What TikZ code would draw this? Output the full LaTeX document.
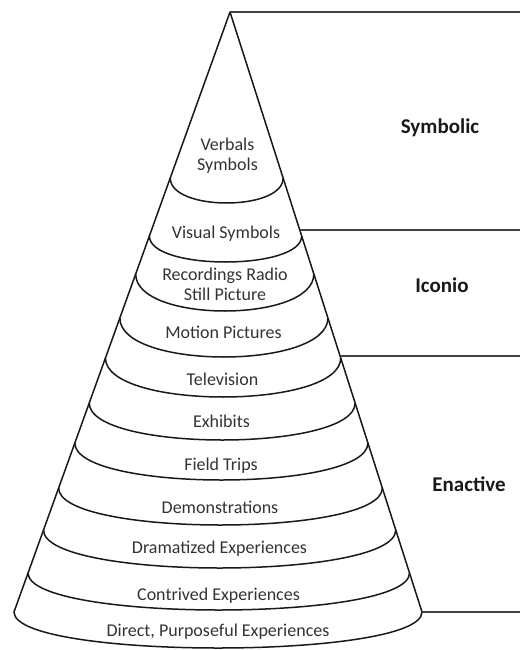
\documentclass[tikz,border=0pt]{standalone}
\usepackage{fontspec}
\setmainfont{Carlito}
\usetikzlibrary{calc}
\definecolor{layergray}{HTML}{333333}
\tikzset{
    layertext/.style={align=center,anchor=base,inner sep=0pt,text=layergray,font=\fontsize{18}{20}\selectfont},
    grouptext/.style={anchor=base,inner sep=0pt,text=black!90,font=\fontsize{21}{24}\selectfont\bfseries},
    cone/.style={line width=1.5pt,draw=black!90,line join=round,line cap=round},
    bar/.style={line width=1.1pt,draw=black!75},
}

\begin{document}
\begin{tikzpicture}[x=1pt,y=-1pt]
    \useasboundingbox (0,0) rectangle (520,650);

    \coordinate (apex) at (230,12);
    \coordinate (baseL) at (14,612);
    \coordinate (baseR) at (422,612);
    \coordinate (edge) at (520,0);

    % cone sides
    \draw[cone] (baseL) -- (apex) -- (baseR);

    % layer rims: side y / lowest y
    \foreach \ys/\yb in {178/203, 236/262, 274/311, 318/357, 358/397, 403/440,
                         443/480, 488/525, 530/568, 573/610, 612/648} {
        \pgfmathsetmacro{\xl}{230-0.36*(\ys-12)}
        \pgfmathsetmacro{\xr}{230+0.32*(\ys-12)}
        \pgfmathsetmacro{\yc}{\ys+4/3*(\yb-\ys)}
        \draw[cone] (\xl,\ys) .. controls (\xl,\yc) and (\xr,\yc) .. (\xr,\ys);
    }

    % group borders
    \coordinate (symIco) at ($(apex)!0.3633!(baseR)$);
    \coordinate (icoEna) at ($(apex)!0.5733!(baseR)$);
    \draw[bar] (apex) -- (apex -| edge);
    \draw[bar] (symIco) -- (symIco -| edge);
    \draw[bar] (icoEna) -- (icoEna -| edge);
    \draw[bar] (baseR) -- (baseR -| edge);

    % two-line nodes sit on their last line
    \node[layertext] (verbal)    at (227.5,170) {Verbals\\Symbols};
    \node[layertext] (visual)    at (226,238) {Visual Symbols};
    \node[layertext] (recording) at (225,300) {Recordings Radio\\Still Picture};
    \node[layertext] (motion)    at (223.5,338) {Motion Pictures};
    \node[layertext] (tv)        at (222.5,385) {Television};
    \node[layertext] (exhibit)   at (221.5,427) {Exhibits};
    \node[layertext] (field)     at (221,470) {Field Trips};
    \node[layertext] (demo)      at (220,513) {Demonstrations};
    \node[layertext] (drama)     at (219.5,553) {Dramatized Experiences};
    \node[layertext] (contrived) at (218.5,600) {Contrived Experiences};
    \node[layertext] (direct)    at (218,636) {Direct, Purposeful Experiences};

    \node[grouptext] (symbolic) at (440,133) {Symbolic};
    \node[grouptext] (iconic)   at (442,292) {Iconio};
    \node[grouptext] (enactive) at (469,491) {Enactive};
\end{tikzpicture}
\end{document}
